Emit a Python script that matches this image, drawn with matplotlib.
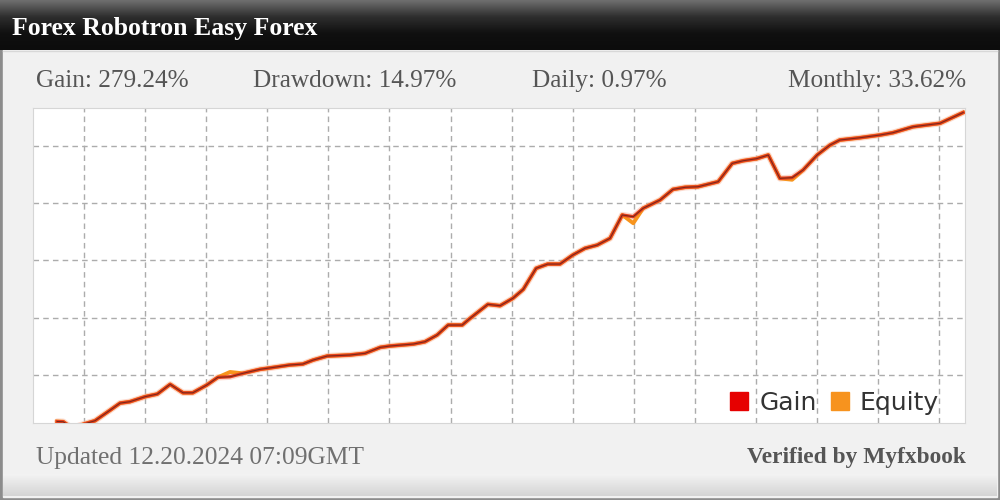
import numpy as np
import matplotlib.pyplot as plt
from matplotlib.patches import Patch, Rectangle
from matplotlib.colors import LinearSegmentedColormap

title = "Forex Robotron Easy Forex"
stats = ["Gain: 279.24%", "Drawdown: 14.97%", "Daily: 0.97%", "Monthly: 33.62%"]
updated = "Updated 12.20.2024 07:09GMT"
verified = "Verified by Myfxbook"
legend_labels = ["Gain", "Equity"]

# x in grid units (one unit per vertical grid line), y in gain %
x = [0.56, 0.66, 0.80, 1.00, 1.18, 1.43, 1.59, 1.75, 2.00, 2.20, 2.41, 2.62, 2.78, 3.01,
     3.19, 3.39, 3.60, 3.88, 4.00, 4.37, 4.58, 4.75, 4.98, 5.35, 5.60, 5.85, 6.01, 6.39,
     6.58, 6.78, 6.96, 7.19, 7.32, 7.61, 7.81, 8.02, 8.19, 8.40, 8.59, 8.79, 9.00, 9.20,
     9.40, 9.61, 9.81, 9.99, 10.15, 10.43, 10.64, 10.84, 11.05, 11.38, 11.61, 11.79, 12.01,
     12.20, 12.39, 12.59, 12.77, 13.00, 13.21, 13.37, 13.70, 14.03, 14.24, 14.57, 15.01, 15.39]
gain = [9.2, 9.0, 3.5, 7.0, 9.9, 19.2, 25.3, 26.5, 30.9, 33.2, 41.7, 34.3, 34.3, 41.1,
        47.8, 48.3, 51.3, 54.8, 55.7, 58.6, 59.4, 62.9, 66.4, 67.3, 68.8, 74.0, 75.2, 76.9,
        78.9, 84.8, 93.5, 93.5, 99.4, 111.6, 110.4, 116.9, 124.7, 143.1, 146.8, 146.8, 154.7, 160.6,
        163.4, 169.3, 189.7, 188.2, 195.5, 202.8, 212.1, 213.9, 214.4, 218.8, 234.8, 237.1, 238.9,
        242.1, 221.7, 222.3, 229.0, 242.1, 250.8, 255.2, 257.2, 259.6, 261.6, 266.8, 269.8, 279.24]
equity = [9.2, 9.0, 3.5, 7.0, 9.9, 19.2, 25.3, 26.5, 30.9, 33.2, 41.7, 34.3, 34.3, 41.1,
          47.8, 52.5, 51.3, 54.8, 55.7, 58.6, 59.4, 62.9, 66.4, 67.3, 68.8, 74.0, 75.2, 76.9,
          78.9, 84.8, 93.5, 93.5, 99.4, 111.6, 110.4, 116.9, 124.7, 143.1, 146.8, 146.8, 154.7, 160.6,
          163.4, 169.3, 189.7, 182.5, 195.5, 202.8, 212.1, 213.9, 214.4, 218.8, 234.8, 237.1, 238.9,
          242.1, 221.7, 220.5, 229.0, 242.1, 250.8, 255.2, 257.2, 259.6, 261.6, 266.8, 269.8, 279.24]

fig = plt.figure(figsize=(10, 5), dpi=100)
fig.patch.set_facecolor("#8c8c8c")

# background card drawn in pixel coordinates
bg = fig.add_axes([0, 0, 1, 1])
bg.set_xlim(0, 1000)
bg.set_ylim(500, 0)
bg.axis("off")
bg.add_patch(Rectangle((3, 48), 994, 449, color="#f1f1f1", zorder=0))
grad = np.linspace(0, 1, 60).reshape(-1, 1)
head_cmap = LinearSegmentedColormap.from_list("h", ["#6e6e6e", "#2e2e2e", "#101010", "#0c0c0c"])
bg.imshow(grad, cmap=head_cmap, extent=[0, 1000, 50, 0], aspect="auto", zorder=1)
bg.plot([3, 997], [51, 51], color="#d8d8d8", lw=1, zorder=2)
foot_cmap = LinearSegmentedColormap.from_list("f", ["#f3f3f3", "#d4d4d4"])
bg.imshow(grad, cmap=foot_cmap, extent=[3, 997, 496, 474], aspect="auto", zorder=1)

serif = ["Liberation Serif", "DejaVu Serif"]
bg.text(12, 28, title, color="white", fontsize=18.5, fontweight="bold", family=serif,
        va="center", ha="left")
stat_x = [36, 253, 532, 966]
stat_ha = ["left", "left", "left", "right"]
for s, sx, ha in zip(stats, stat_x, stat_ha):
    bg.text(sx, 81, s, color="#555555", fontsize=18.2, family=serif, va="center", ha=ha)
bg.text(36, 458, updated, color="#707070", fontsize=18.4, family=serif, va="center", ha="left")
bg.text(966, 458, verified, color="#555555", fontsize=16.8, family=serif, fontweight="bold",
        va="center", ha="right")

# chart
ax = fig.add_axes([33 / 1000, 77 / 500, 932 / 1000, 315 / 500])
ax.set_facecolor("white")
ax.plot(x, gain, color="#f8b29c", lw=4.5, alpha=0.5, solid_capstyle="round", zorder=2)
ax.plot(x, equity, color="#f7941d", lw=2.8, zorder=3)
ax.plot(x, gain, color="#e8401f", lw=2.4, zorder=4)
ax.plot(x, gain, color="#7a2a18", lw=0.8, zorder=5)
ax.set_xlim(0.165, 15.42)
ax.set_ylim(7.9, 283.2)
ax.set_xticks(range(1, 16))
ax.set_yticks([50, 100, 150, 200, 250])
ax.grid(True, color="#acacac", linestyle=(0, (4, 3)), lw=1)
ax.tick_params(length=0, labelbottom=False, labelleft=False)
for sp in ax.spines.values():
    sp.set_color("#d6d6d6")

handles = [Patch(color="#e60000"), Patch(color="#f7931e")]
leg = ax.legend(handles, legend_labels, loc="lower right", ncol=2, frameon=False,
                bbox_to_anchor=(939 / 1000, 85 / 500), bbox_transform=fig.transFigure,
                borderpad=0, borderaxespad=0, handlelength=0.72, handleheight=0.72,
                handletextpad=0.45, columnspacing=0.55, prop={"family": "DejaVu Sans", "size": 18})
for t in leg.get_texts():
    t.set_color("#333333")

fig.savefig("out.png", dpi=100, facecolor=fig.get_facecolor())
